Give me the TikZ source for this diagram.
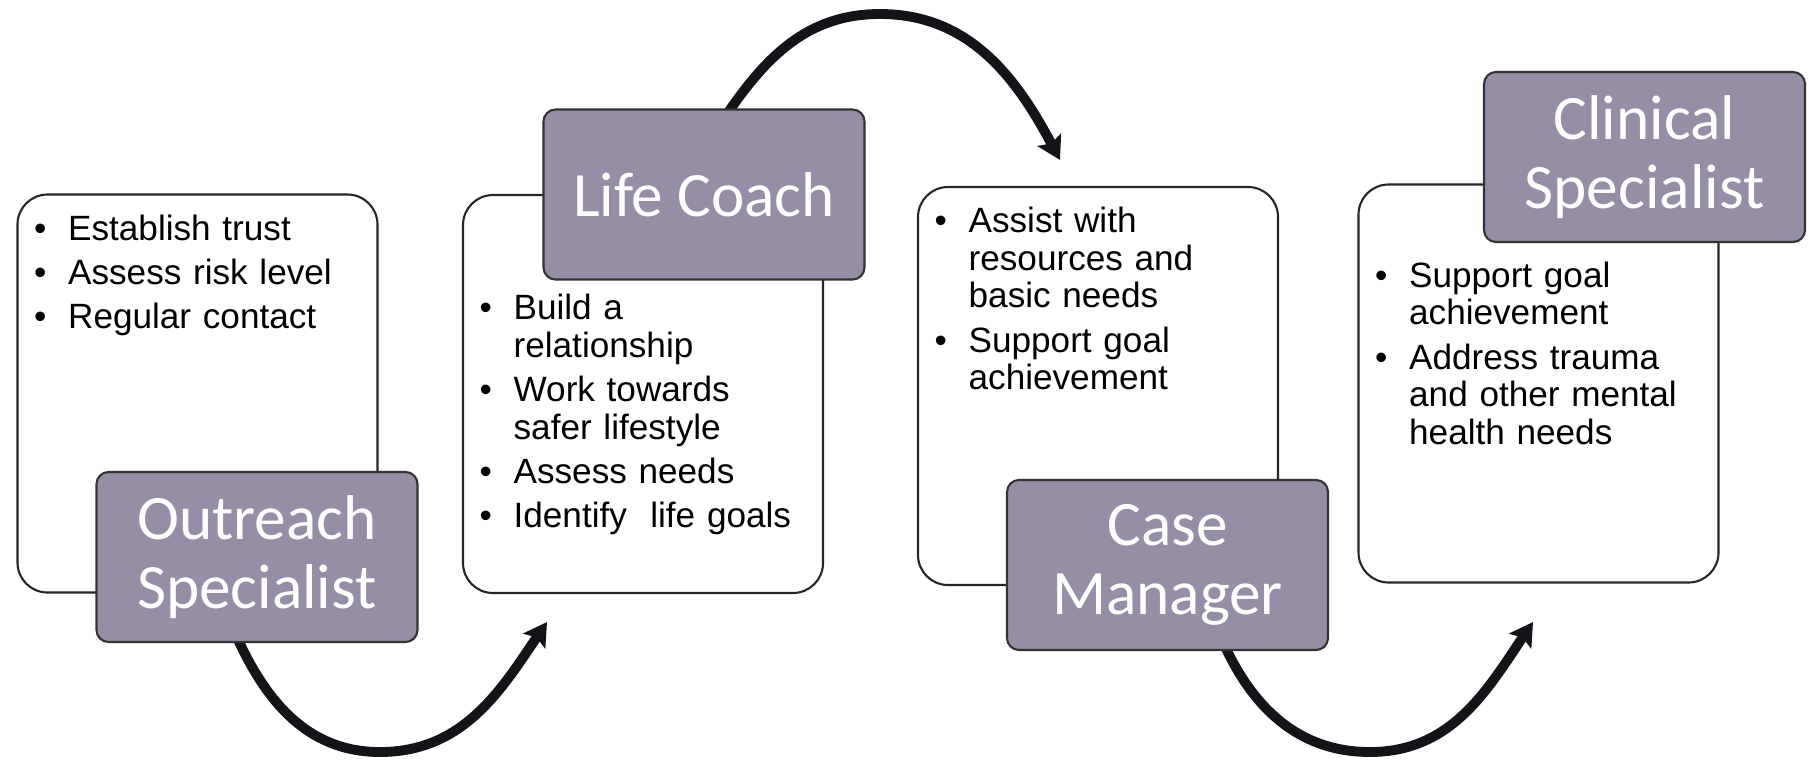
\documentclass[tikz,border=0pt]{standalone}
\usepackage{fontspec}
\setmainfont{Liberation Sans}
\newfontfamily\titlefont{Carlito}
\usetikzlibrary{arrows.meta,backgrounds}
\definecolor{rolepurple}{RGB}{150,142,166}
\definecolor{arrowblack}{RGB}{22,19,24}
% one bullet line with hanging indent
\newcommand{\bul}{\par\parskip=1.9pt\hangindent=0.34cm\hangafter=1\noindent\makebox[0.34cm][l]{\strut\textbullet}}

\begin{document}
\begin{tikzpicture}[line join=round,
  card/.style={draw=black!85, line width=0.6pt, rounded corners=0.3cm, fill=white, minimum width=3.6cm, minimum height=3.98cm, inner sep=0pt},
  role/.style={draw=black!80, line width=0.6pt, rounded corners=0.12cm, fill=rolepurple, text=white, minimum width=3.21cm, minimum height=1.7cm, align=center, inner sep=0pt, font=\titlefont\fontsize{18pt}{19.6pt}\selectfont},
  duties/.style={anchor=north west, text width=3.3cm, align=left, inner sep=0pt, font=\fontsize{10pt}{10.67pt}\selectfont},
  flow/.style={draw=arrowblack, line width=2.8pt, -{Stealth[length=6.5pt, width=7.5pt, inset=1.2pt]}}]
	\useasboundingbox (0,0) rectangle (18.11,7.61);
	% white cards
	\node[card] (c1) at (1.975,3.675) {};
	\node[card] (c2) at (6.43,3.67) {};
	\node[card] (c3) at (10.98,3.75) {};
	\node[card] (c4) at (15.385,3.775) {};
	% bullet lists
	\node[duties] (t1) at ([shift={(0.17,-0.02)}]c1.north west)
		{\bul Establish trust \bul Assess risk level \bul Regular contact\par};
	\node[duties] (t2) at ([shift={(0.17,-0.81)}]c2.north west)
		{\bul Build a\newline relationship \bul Work towards\newline safer lifestyle \bul Assess needs \bul Identify\ \ life goals\par};
	\node[duties] (t3) at ([shift={(0.17,-0.02)}]c3.north west)
		{\bul Assist with\newline resources and\newline basic needs \bul Support goal\newline achievement\par};
	\node[duties] (t4) at ([shift={(0.17,-0.59)}]c4.north west)
		{\bul Support goal\newline achievement \bul Address trauma\newline and other mental\newline health needs\par};
	% role labels
	\node[role] (r1) at (2.57,2.04) {Outreach\\Specialist};
	\node[role] (r2) at (7.04,5.665) {Life Coach};
	\node[role] (r3) at (11.675,1.96) {Case\\Manager};
	\node[role] (r4) at (16.445,6.04) {Clinical\\Specialist};
	% curved arrows
	\coordinate (b1) at (3.80,0.09);
	\coordinate (e1) at (5.47,1.39);
	\coordinate (b2) at (8.80,7.47);
	\coordinate (e2) at (10.60,6.01);
	\coordinate (b3) at (13.70,0.09);
	\coordinate (e3) at (15.33,1.39);
	\begin{scope}[on background layer]
		\draw[flow] ([shift={(-0.22,0.1)}]r1.south) to[out=-66, in=180] (b1) to[out=0, in=236] (e1);
		\draw[flow] ([shift={(0.2,-0.1)}]r2.north) to[out=56, in=180] (b2) to[out=0, in=118] (e2);
		\draw[flow] ([shift={(0.55,0.1)}]r3.south) to[out=-66, in=180] (b3) to[out=0, in=236] (e3);
	\end{scope}
\end{tikzpicture}
\end{document}
